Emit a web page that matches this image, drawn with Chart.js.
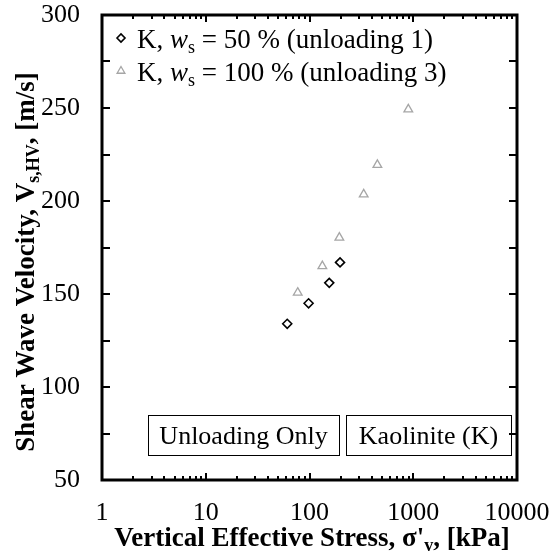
<!DOCTYPE html>
<html>
<head>
<meta charset="utf-8">
<script src="https://cdn.jsdelivr.net/npm/chart.js@4.4.1/dist/chart.umd.min.js"></script>
<style>
  html, body { margin: 0; padding: 0; background: #fff; }
  #wrap { width: 551px; height: 556px; }
</style>
</head>
<body>
<div id="wrap"><canvas id="chart" width="551" height="556"></canvas></div>
<script>
// values
const stressK50 = [61, 98, 155, 197];
const vsK50 = [134, 145, 156, 167];
const stressK100 = [77, 133, 194, 333, 451, 896];
const vsK100 = [150.7, 165, 180.3, 203.6, 219.4, 249.3];

const xTicks = [1, 10, 100, 1000, 10000];
const yTicks = [50, 100, 150, 200, 250, 300];
const yMinorStep = 25;

const legendRows = [
  { pre: 'K, ', ital: 'w', sub: 's', post: ' = 50 % (unloading 1)' },
  { pre: 'K, ', ital: 'w', sub: 's', post: ' = 100 % (unloading 3)' }
];
const noteBoxes = ['Unloading Only', 'Kaolinite (K)'];

const SERIF = '"Liberation Serif", "Times New Roman", serif';
const GREY = '#a6a6a6';

function toXY(xs, ys) {
  return xs.map((x, i) => ({ x, y: ys[i] }));
}

// draws text pieces left to right, returns end x
function drawRun(ctx, parts, x, y) {
  parts.forEach(p => {
    ctx.font = p.font;
    ctx.fillText(p.text, x, y + (p.dy || 0));
    x += ctx.measureText(p.text).width;
  });
  return x;
}
function runWidth(ctx, parts) {
  let w = 0;
  parts.forEach(p => { ctx.font = p.font; w += ctx.measureText(p.text).width; });
  return w;
}

function noPad(s) {
  s.paddingTop = 0; s.paddingBottom = 0; s.paddingLeft = 0; s.paddingRight = 0;
}

const decorations = {
  id: 'decorations',
  afterDraw(chart) {
    const { ctx, chartArea: a, scales } = chart;
    const xs = scales.x, ys = scales.y;
    ctx.save();
    ctx.strokeStyle = '#000';
    ctx.fillStyle = '#000';

    // inward ticks
    ctx.lineWidth = 2;
    ctx.beginPath();
    for (let v = ys.min; v <= ys.max; v += yMinorStep) {
      const py = Math.round(ys.getPixelForValue(v));
      ctx.moveTo(a.left, py); ctx.lineTo(a.left + 8, py);
      ctx.moveTo(a.right, py); ctx.lineTo(a.right - 8, py);
    }
    for (let d = 1; d < 10000; d *= 10) {
      for (let k = 1; k <= 10; k++) {
        const v = k * d;
        const px = Math.round(xs.getPixelForValue(v));
        const len = (k === 1 || k === 10) ? 7 : 4;
        ctx.moveTo(px, a.bottom); ctx.lineTo(px, a.bottom - len);
        ctx.moveTo(px, a.top); ctx.lineTo(px, a.top + len);
      }
    }
    ctx.stroke();

    // frame
    ctx.lineWidth = 3;
    ctx.strokeRect(a.left, a.top, a.right - a.left, a.bottom - a.top);

    // legend
    ctx.textBaseline = 'alphabetic';
    ctx.textAlign = 'left';
    const lf = 27;
    legendRows.forEach((r, i) => {
      const ds = chart.data.datasets[i];
      const cy = 38 + i * 33;
      ctx.strokeStyle = ds.borderColor;
      ctx.fillStyle = 'rgba(0,0,0,0)';
      ctx.lineWidth = ds.borderWidth;
      Chart.helpers.drawPoint(ctx, {
        pointStyle: ds.pointStyle, radius: ds.pointRadius - 0.5, borderWidth: ds.borderWidth
      }, 121, cy);
      ctx.fillStyle = '#000';
      drawRun(ctx, [
        { text: r.pre, font: `${lf}px ${SERIF}` },
        { text: r.ital, font: `italic ${lf}px ${SERIF}` },
        { text: r.sub, font: `${Math.round(lf * 0.65)}px ${SERIF}`, dy: 5 },
        { text: r.post, font: `${lf}px ${SERIF}` }
      ], 137, cy + 10);
    });

    // note boxes
    ctx.strokeStyle = '#000';
    ctx.fillStyle = '#000';
    ctx.lineWidth = 1;
    ctx.font = `26px ${SERIF}`;
    ctx.textAlign = 'center';
    const boxes = [[148, 339], [346, 511]];
    noteBoxes.forEach((t, i) => {
      const [l, r] = boxes[i];
      ctx.strokeRect(l + 0.5, 415.5, r - l, 40);
      ctx.fillText(t, (l + r) / 2, 444);
    });

    // axis titles
    ctx.textAlign = 'left';
    const tf = 27;
    const xParts = [
      { text: 'Vertical Effective Stress, \u03c3\'', font: `bold ${tf}px ${SERIF}` },
      { text: 'v', font: `bold ${Math.round(tf * 0.65)}px ${SERIF}`, dy: 5 },
      { text: ', [kPa]', font: `bold ${tf}px ${SERIF}` }
    ];
    const xw = runWidth(ctx, xParts);
    drawRun(ctx, xParts, 312 - xw / 2, 546);

    const yParts = [
      { text: 'Shear Wave Velocity, V', font: `bold ${tf}px ${SERIF}` },
      { text: 's,HV', font: `bold ${Math.round(tf * 0.65)}px ${SERIF}`, dy: 5 },
      { text: ', [m/s]', font: `bold ${tf}px ${SERIF}` }
    ];
    const yw = runWidth(ctx, yParts);
    ctx.translate(34, 262);
    ctx.rotate(-Math.PI / 2);
    drawRun(ctx, yParts, -yw / 2, 0);
    ctx.restore();
  }
};

new Chart(document.getElementById('chart'), {
  type: 'scatter',
  data: {
    datasets: [
      {
        label: 'K, ws = 50 % (unloading 1)',
        data: toXY(stressK50, vsK50),
        pointStyle: 'rectRot',
        pointRadius: 4.5,
        borderWidth: 1.6,
        borderColor: '#000',
        backgroundColor: 'rgba(0,0,0,0)'
      },
      {
        label: 'K, ws = 100 % (unloading 3)',
        data: toXY(stressK100, vsK100),
        pointStyle: 'triangle',
        pointRadius: 5,
        borderWidth: 1.3,
        borderColor: GREY,
        backgroundColor: 'rgba(0,0,0,0)'
      }
    ]
  },
  options: {
    responsive: false,
    animation: false,
    layout: { padding: { top: 15, right: 34, left: 0, bottom: 0 } },
    plugins: { legend: { display: false }, tooltip: { enabled: false } },
    scales: {
      x: {
        type: 'logarithmic',
        min: 1,
        max: 10000,
        grid: { display: false, drawTicks: false },
        border: { display: false },
        afterBuildTicks: s => { s.ticks = xTicks.map(v => ({ value: v })); },
        afterFit: s => { s.height = 76; noPad(s); },
        ticks: {
          color: '#000',
          font: { family: SERIF, size: 26 },
          padding: 18,
          maxRotation: 0,
          autoSkip: false,
          callback: v => String(v)
        }
      },
      y: {
        min: 50,
        max: 300,
        grid: { display: false, drawTicks: false },
        border: { display: false },
        afterBuildTicks: s => { s.ticks = yTicks.map(v => ({ value: v })); },
        afterFit: s => { s.width = 102; noPad(s); },
        ticks: {
          color: '#000',
          font: { family: SERIF, size: 26 },
          padding: 22
        }
      }
    }
  },
  plugins: [decorations]
});
</script>
</body>
</html>
